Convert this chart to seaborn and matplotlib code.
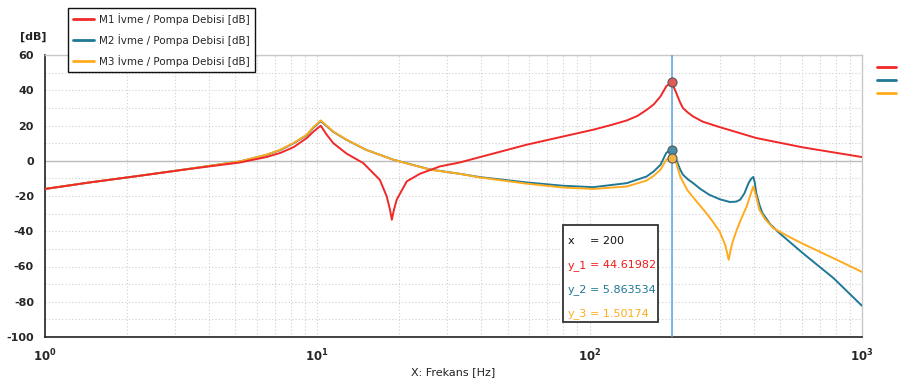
import matplotlib
matplotlib.use("Agg")
import matplotlib.pyplot as plt
import seaborn as sns
import pandas as pd
from matplotlib.patches import Rectangle
from matplotlib.ticker import LogLocator, MultipleLocator, NullFormatter

# ---- data ----
f_m1 = [1, 1.46, 2.23, 3.41, 5.19, 6.5, 7.3, 8.2, 9.15, 9.67, 10.29, 10.8, 11.44, 12.82,
        14.74, 16.96, 17.98, 18.5, 18.77, 19.1, 19.57, 21.3, 23.8, 28.2, 33.3, 39.6, 58.7,
        80, 103, 120, 137, 150, 162, 172, 182, 191, 200, 208, 215, 220, 230, 240, 260, 300,
        409, 606, 1000]
db_m1 = [-16, -12.3, -8.5, -4.6, -1.0, 2.1, 4.4, 7.8, 12.9, 16.5, 19.9, 15.0, 10.0, 4.0,
         -1.3, -10.8, -20.2, -28, -33.5, -28, -22, -11.7, -7.4, -3.2, -1.0, 2.1, 9.1,
         13.8, 17.6, 20.3, 22.9, 25.5, 28.9, 32.0, 36.5, 42.2, 44.61982, 38.4, 33.0, 29.9,
         27.2, 25.1, 22.2, 19.1, 12.9, 7.6, 2.1]

f_m2 = [1, 1.46, 2.23, 3.41, 5.19, 6.5, 7.3, 8.2, 9.15, 9.67, 10.29, 10.8, 11.44, 12.82,
        15.1, 19.0, 26, 33.3, 39.6, 58.7, 80, 103, 137, 162, 172, 182, 191, 195, 200, 208,
        215, 220, 230, 240, 255, 275, 300, 327, 345, 357, 370, 383, 393, 399, 404, 409, 420,
        431, 460, 497, 606, 786, 1000]
db_m2 = [-16, -12.3, -8.5, -4.5, -0.4, 3.3, 6.0, 10.0, 14.5, 18.7, 22.5, 19.7, 16.4, 11.8,
         6.2, 0.6, -5.0, -7.4, -9.3, -12.3, -14.2, -15.0, -12.7, -8.9, -6.0, -2.3, 4.4, 5.5,
         5.863534, 0.6, -5.0, -7.9, -10.7, -12.7, -16.0, -19.3, -21.8, -23.4, -23.2, -22.1,
         -18.5, -12.7, -10.0, -9.2, -12.5, -18.3, -25.0, -29.7, -36.0, -41, -52.4, -66.6,
         -82.3]

f_m3 = [1, 1.46, 2.23, 3.41, 5.19, 6.5, 7.3, 8.2, 9.15, 9.67, 10.29, 10.8, 11.44, 12.82,
        15.1, 19.0, 26, 33.3, 39.6, 58.7, 80, 103, 137, 162, 172, 182, 191, 200, 208, 215,
        228, 245, 262, 280, 300, 315, 324, 330, 335, 347, 360, 377, 390, 399, 410, 420, 440,
        472, 530, 606, 786, 1000]
db_m3 = [-16, -12.3, -8.5, -4.5, -0.4, 3.4, 6.2, 10.2, 14.8, 19.1, 22.9, 20.0, 16.6, 11.9,
         6.2, 0.6, -5.1, -7.4, -9.5, -13.0, -15.2, -16.0, -14.6, -11.2, -8.5, -5.1, 0.6,
         1.50174, -1.3, -8.9, -16.5, -22.5, -27.8, -33.5, -40.1, -48, -56.2, -50, -46,
         -39.1, -33, -26.0, -19, -14.6, -21, -27.8, -33, -38.2, -42.5, -47.1, -55.3, -63.1]

labels = ["M1 \u0130vme / Pompa Debisi [dB]", "M2 \u0130vme / Pompa Debisi [dB]",
          "M3 \u0130vme / Pompa Debisi [dB]"]
colors = ["#f02828", "#1f7896", "#ffab1f"]
marker_fc = ["#e05a5a", "#4a8fa8", "#f2b545"]
cursor_x = 200
cursor_vals = [44.61982, 5.863534, 1.50174]
cursor_txt = ["44.61982", "5.863534", "1.50174"]

# ---- figure ----
sns.set_style("white")
plt.rcParams["font.family"] = ["DejaVu Sans"]
fig = plt.figure(figsize=(8.98, 3.82), dpi=100)
W, H = 898, 382
L, R, T, B = 45, 862, 55, 337
ax = fig.add_axes([L / W, 1 - B / H, (R - L) / W, (B - T) / H])

df = pd.concat([
    pd.DataFrame({"f": f_m2, "db": db_m2, "s": labels[1]}),
    pd.DataFrame({"f": f_m3, "db": db_m3, "s": labels[2]}),
    pd.DataFrame({"f": f_m1, "db": db_m1, "s": labels[0]}),
])
for lab, col in [(labels[1], colors[1]), (labels[2], colors[2]), (labels[0], colors[0])]:
    sns.lineplot(data=df[df["s"] == lab], x="f", y="db", color=col, lw=1.4,
                 ax=ax, legend=False, estimator=None, zorder=3)

ax.set_xscale("log")
ax.set_xlim(1, 1000)
ax.set_ylim(-100, 60)

# grid
ax.yaxis.set_major_locator(MultipleLocator(20))
ax.yaxis.set_minor_locator(MultipleLocator(10))
ax.xaxis.set_major_locator(LogLocator(base=10))
ax.xaxis.set_minor_locator(LogLocator(base=10, subs=range(2, 10)))
ax.xaxis.set_minor_formatter(NullFormatter())
ax.grid(which="both", axis="both", color="#cfcfcf", ls=(0, (1, 2)), lw=0.8, zorder=0)
ax.axhline(0, color="#bdbdbd", lw=1.0, zorder=1)

# spines
for s in ["top", "right"]:
    ax.spines[s].set_color("#c8c8c8")
    ax.spines[s].set_linewidth(1.0)
for s in ["left", "bottom"]:
    ax.spines[s].set_color("#222222")
    ax.spines[s].set_linewidth(1.2)

ax.tick_params(axis="both", which="major", direction="out", length=6, width=1,
               color="#222222", labelsize=8, pad=2)
ax.tick_params(axis="both", which="minor", direction="out", length=3.5, width=1,
               color="#222222")
ax.set_yticks([60, 40, 20, 0, -20, -40, -60, -80, -100])
ax.set_yticklabels(["60", "40", "20", "0", "-20", "-40", "-60", "-80", "-100"],
                   fontweight="bold", fontsize=8)
ax.set_xticks([1, 10, 100, 1000])
ax.set_xticklabels([r"$\mathbf{10^0}$", r"$\mathbf{10^1}$", r"$\mathbf{10^2}$",
                    r"$\mathbf{10^3}$"], fontsize=8.5)
ax.set_xlabel("X: Frekans [Hz]", fontsize=8, labelpad=1.5, color="#222222")
ax.set_ylabel("")
fig.text(33 / W, 1 - 37 / H, "[dB]", fontsize=8, fontweight="bold", ha="center",
         va="center", color="#222222")

# cursor
ax.axvline(cursor_x, color="#5ba3e6", lw=1.1, zorder=4)
for v, fc in zip(cursor_vals, marker_fc):
    ax.plot([cursor_x], [v], "o", ms=6.5, mfc=fc, mec="#555555", mew=0.8, zorder=6)

# legend
handles = [plt.Line2D([], [], color=c, lw=2) for c in colors]
leg = fig.legend(handles, labels, loc="upper left", bbox_to_anchor=(68 / W, 1 - 8 / H),
                 borderaxespad=0, fancybox=False, edgecolor="#111111", framealpha=1,
                 fontsize=7.5, handlelength=2.0, handletextpad=0.5, labelspacing=0.85,
                 borderpad=0.5)
leg.get_frame().set_linewidth(1.0)

# second (cropped) legend at right edge: only the handles are visible
leg2 = fig.legend(handles, [" ", " ", " "], loc="upper left",
                  bbox_to_anchor=(874 / W, 1 - 60 / H), borderaxespad=0, frameon=False,
                  fontsize=6, handlelength=2.2, labelspacing=0.45)

# data box
bx0, by0, bx1, by1 = 563, 225, 658, 322
fig.patches.append(Rectangle((bx0 / W, 1 - by1 / H), (bx1 - bx0) / W, (by1 - by0) / H,
                             transform=fig.transFigure, facecolor="white",
                             edgecolor="#333333", lw=1.3, zorder=10))
rows = [("x", "200", "#111111")] + [("y_%d" % (i + 1), cursor_txt[i],
                                     colors[i] if i else "#f01a1a") for i in range(3)]
for i, (nm, val, col) in enumerate(rows):
    yy = 1 - (241 + i * 24.3) / H
    fig.text(568 / W, yy, nm, color=col, fontsize=8, va="center", zorder=11)
    fig.text(590 / W, yy, "= " + val, color=col, fontsize=8, va="center", zorder=11)

fig.savefig("out.png", dpi=100)
